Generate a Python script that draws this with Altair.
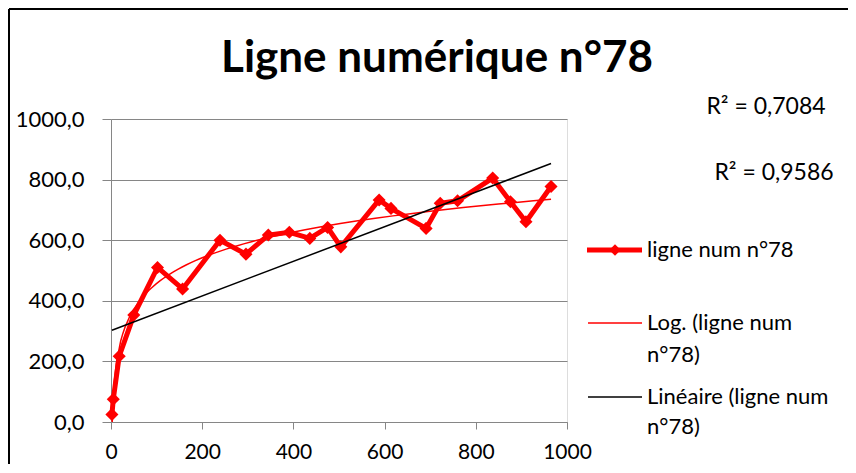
import altair as alt
import pandas as pd

# ---- data ----
x_values = [2, 5, 18, 50, 102, 157, 239, 296, 345, 391, 436, 475, 504, 588, 614, 691, 722, 760, 837, 876, 910, 965]
y_values = [25, 75, 217, 353, 510, 439, 600, 554, 617, 626, 606, 642, 578, 733, 705, 639, 722, 730, 805, 727, 661, 777]
title_text = "Ligne numérique n°78"
series_label = "ligne num n°78"
log_label = ["Log. (ligne num", "n°78)"]
lin_label = ["Linéaire (ligne num", "n°78)"]
r2_texts = ["R² = 0,7084", "R² = 0,9586"]
x_ticks = [0, 200, 400, 600, 800, 1000]
y_ticks = [0, 200, 400, 600, 800, 1000]

df = pd.DataFrame({"x": x_values, "y": y_values})

W, H = 456, 303
FONT = "Lato"
RED = "#FF0000"
GRAY = "#868686"

xenc = alt.X("x:Q", scale=alt.Scale(domain=[0, 1000], nice=False, zero=False),
             axis=alt.Axis(values=x_ticks, grid=False, title=None, domainColor=GRAY,
                           tickColor=GRAY, tickSize=7, labelFontSize=21, labelFont=FONT,
                           labelColor="black", labelPadding=12, labelFlush=False,
                           labelOverlap=False, format="d"))
yenc = alt.Y("y:Q", scale=alt.Scale(domain=[0, 1000], nice=False),
             axis=alt.Axis(values=y_ticks, grid=True, gridColor=GRAY, gridWidth=1.2,
                           title=None, domainColor=GRAY, tickColor=GRAY, tickSize=9,
                           labelFontSize=22, labelFont=FONT, labelColor="black",
                           labelPadding=18, labelFlush=False, labelOverlap=False,
                           labelExpr="replace(format(datum.value, '.1f'), '.', ',')"))

base = alt.Chart(df)
line = base.mark_line(color=RED, strokeWidth=5).encode(x=xenc, y=yenc)
pts = base.mark_point(shape="diamond", filled=True, size=170, color=RED, opacity=1).encode(x="x:Q", y="y:Q")
log_fit = base.transform_regression("x", "y", method="log").mark_line(
    color=RED, strokeWidth=1.5, clip=True).encode(x="x:Q", y="y:Q")
lin_fit = base.transform_regression("x", "y", method="linear").mark_line(
    color="black", strokeWidth=1.5, clip=True).encode(x="x:Q", y="y:Q")

one = alt.Data(values=[{"a": 0}])


def txt(text, x, y, size=22, align="left", baseline="middle", weight="normal"):
    return alt.Chart(one).mark_text(text=text, font=FONT, fontSize=size, align=align,
                                    baseline=baseline, fontWeight=weight, color="black").encode(
        x=alt.value(x), y=alt.value(y))


def hrule(x1, x2, y, color, w):
    return alt.Chart(one).mark_rule(color=color, strokeWidth=w).encode(
        x=alt.value(x1), x2=alt.value(x2), y=alt.value(y))


layers = [line, pts, log_fit, lin_fit]

# frame
layers.append(alt.Chart(one).mark_rule(color="black", strokeWidth=2).encode(
    x=alt.value(-102), y=alt.value(-110), y2=alt.value(H + 50)))
layers.append(hrule(-102, W + 300, -110, "black", 2))

# title
layers.append(txt(title_text, 326, -47, size=44, align="center", baseline="alphabetic", weight="bold"))

# R² labels
layers.append(txt(r2_texts[0], 655, -12, size=23, align="center"))
layers.append(txt(r2_texts[1], 663, 54, size=23, align="center"))

# legend
layers.append(hrule(476, 531, 131, RED, 5))
layers.append(alt.Chart(one).mark_point(shape="diamond", filled=True, size=130, color=RED, opacity=1).encode(
    x=alt.value(504), y=alt.value(131)))
layers.append(txt(series_label, 536, 131))
layers.append(hrule(477, 531, 204, RED, 1.5))
layers.append(txt(log_label[0], 536, 204))
layers.append(txt(log_label[1], 536, 236))
layers.append(hrule(477, 531, 278, "black", 1.5))
layers.append(txt(lin_label[0], 536, 278))
layers.append(txt(lin_label[1], 536, 308))

chart = alt.layer(*layers).properties(
    width=W, height=H,
    autosize=alt.AutoSizeParams(type="none"),
    padding={"left": 103, "top": 111, "right": 281, "bottom": 42},
).configure_view(stroke=None).configure(background="white")

chart.save("out.html", embed_options={"renderer": "svg", "actions": False})
